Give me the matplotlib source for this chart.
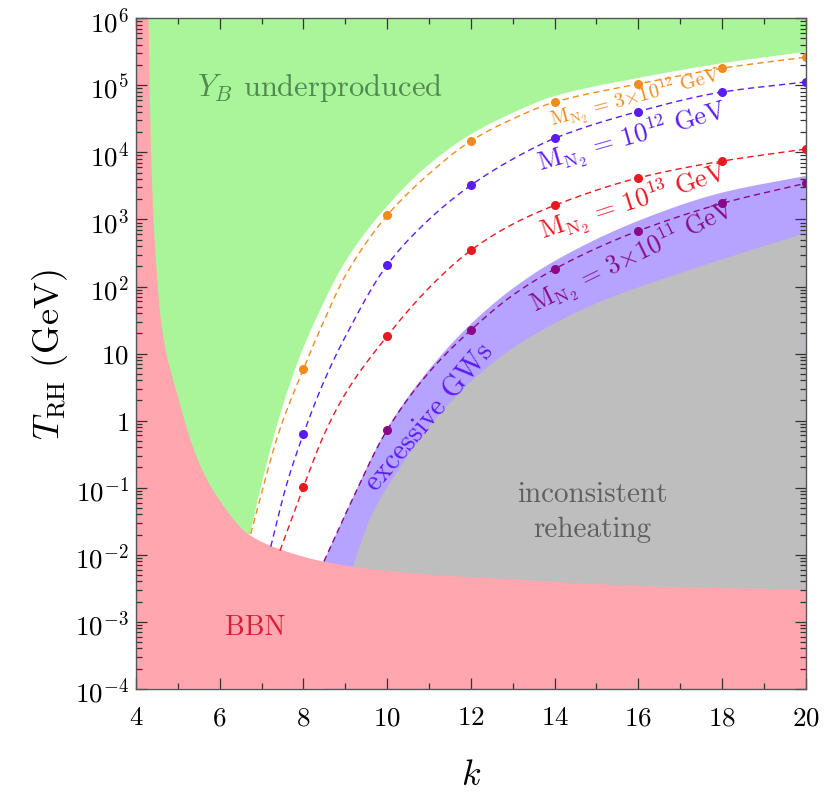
import numpy as np
import matplotlib
matplotlib.use("Agg")
import matplotlib.pyplot as plt
from matplotlib.ticker import FixedLocator, FixedFormatter, MultipleLocator, LogLocator, NullFormatter

plt.rcParams['font.family'] = ['cmr10', 'DejaVu Serif']
plt.rcParams['mathtext.fontset'] = 'cm'
plt.rcParams['axes.formatter.use_mathtext'] = True
plt.rcParams['axes.unicode_minus'] = False

# ---------------- data (log10 of T_RH in GeV) ----------------
# BBN boundary
bbn_k = [4.30, 4.36, 4.52, 4.64, 5.0, 5.5, 6.02, 6.7, 7.4, 8.46, 9.18, 10.5, 12.7, 16.7, 20.0]
bbn_logT = [6.0, 4.0, 2.0, 1.3, 0.36, -0.62, -1.21, -1.70, -1.91, -2.10, -2.18, -2.27, -2.36, -2.48, -2.52]

# Y_B underproduced (green) lower boundary
green_k = [6.72, 7.0, 7.4, 7.85, 8.4, 9.0, 10.0, 11.0, 12.0, 13.0, 14.0, 16.0, 18.0, 20.0]
green_logT = [-1.70, -0.95, 0.0, 0.85, 1.65, 2.37, 3.20, 3.82, 4.27, 4.59, 4.84, 5.11, 5.33, 5.50]

# excessive GWs (purple band) upper boundary
gw_k = [8.49, 9.03, 10.0, 11.0, 12.0, 13.0, 14.0, 16.0, 18.0, 20.0]
gw_logT = [-2.10, -1.35, -0.12, 0.76, 1.44, 1.97, 2.38, 2.98, 3.40, 3.65]

# inconsistent reheating (gray) upper boundary
gray_k = [9.18, 9.6, 10.2, 11.0, 12.0, 13.0, 14.0, 15.0, 17.0, 20.0]
gray_logT = [-2.18, -1.45, -0.80, -0.10, 0.58, 1.08, 1.45, 1.75, 2.20, 2.80]

# dashed curves for the four M_N2 values
orange_k = [6.74, 7.0, 7.4, 8.0, 8.5, 9.0, 10.0, 11.0, 12.0, 13.0, 14.0, 16.0, 18.0, 20.0]
orange_logT = [-1.69, -1.08, -0.20, 0.77, 1.50, 2.16, 3.06, 3.68, 4.17, 4.50, 4.75, 5.02, 5.255, 5.42]

blue_k = [7.22, 7.6, 8.0, 8.5, 9.0, 10.0, 11.0, 12.0, 13.0, 14.0, 16.0, 18.0, 20.0]
blue_logT = [-1.88, -0.95, -0.20, 0.60, 1.25, 2.32, 3.00, 3.51, 3.90, 4.21, 4.61, 4.90, 5.05]

red_k = [7.44, 8.0, 8.5, 9.0, 10.0, 11.0, 12.0, 13.0, 14.0, 16.0, 18.0, 20.0]
red_logT = [-1.94, -0.99, -0.20, 0.40, 1.26, 1.98, 2.54, 2.93, 3.21, 3.62, 3.87, 4.05]

purple_k = [8.49, 9.03, 10.0, 11.0, 12.0, 13.0, 14.0, 15.0, 16.0, 18.0, 20.0]
purple_logT = [-2.10, -1.36, -0.14, 0.72, 1.35, 1.87, 2.26, 2.57, 2.83, 3.24, 3.54]

# computed points (dots)
orange_dot_k = [8, 10, 12, 14, 16, 18, 20]
orange_dot_logT = [0.77, 3.06, 4.17, 4.75, 5.02, 5.255, 5.42]
blue_dot_k = [8, 10, 12, 14, 16, 18, 20]
blue_dot_logT = [-0.20, 2.32, 3.51, 4.21, 4.61, 4.90, 5.05]
red_dot_k = [8, 10, 12, 14, 16, 18, 20]
red_dot_logT = [-0.99, 1.26, 2.54, 3.21, 3.62, 3.87, 4.05]
purple_dot_k = [10, 12, 14, 16, 18, 20]
purple_dot_logT = [-0.14, 1.35, 2.26, 2.83, 3.24, 3.54]

ytick_vals = [1e-4, 1e-3, 1e-2, 1e-1, 1, 10, 1e2, 1e3, 1e4, 1e5, 1e6]
ytick_labels = [r'$10^{-4}$', r'$10^{-3}$', r'$10^{-2}$', r'$10^{-1}$', r'$1$', r'$10$',
                r'$10^{2}$', r'$10^{3}$', r'$10^{4}$', r'$10^{5}$', r'$10^{6}$']
xtick_vals = [4, 6, 8, 10, 12, 14, 16, 18, 20]

# colours
c_pink = '#ffa6ae'
c_green = '#aaf59a'
c_band = '#b6a3ff'
c_gray = '#bebebe'
c_orange = '#f08c1e'
c_blue = '#5b1cf2'
c_red = '#ec1820'
c_purple = '#880a88'

K_MIN, K_MAX = 4, 20
T_MIN, T_MAX = 1e-4, 1e6


def smooth(xs, ys, n=400):
    """Monotone cubic (PCHIP) rendering of a read curve, in log10 space."""
    x = np.asarray(xs, float)
    y = np.asarray(ys, float)
    h = np.diff(x)
    d = np.diff(y) / h
    m = np.zeros_like(y)
    m[0], m[-1] = d[0], d[-1]
    for i in range(1, len(x) - 1):
        if d[i - 1] * d[i] > 0:
            w1 = 2 * h[i] + h[i - 1]
            w2 = h[i] + 2 * h[i - 1]
            m[i] = (w1 + w2) / (w1 / d[i - 1] + w2 / d[i])
    xn = np.linspace(x[0], x[-1], n)
    idx = np.clip(np.searchsorted(x, xn) - 1, 0, len(x) - 2)
    t = (xn - x[idx]) / h[idx]
    h00 = 2 * t**3 - 3 * t**2 + 1
    h10 = t**3 - 2 * t**2 + t
    h01 = -2 * t**3 + 3 * t**2
    h11 = t**3 - t**2
    yn = h00 * y[idx] + h10 * h[idx] * m[idx] + h01 * y[idx + 1] + h11 * h[idx] * m[idx + 1]
    return xn, 10.0 ** yn


fig = plt.figure(figsize=(8.29, 8.04), dpi=100)
ax = fig.add_axes([0.164, 0.142, 0.808, 0.834])
ax.set_yscale('log')
ax.set_xlim(K_MIN, K_MAX)
ax.set_ylim(T_MIN, T_MAX)

# green region
sk, sT = smooth(green_k, green_logT)
ax.fill(np.r_[sk, K_MAX, K_MIN, K_MIN], np.r_[sT, T_MAX, T_MAX, sT[0]],
        color=c_green, lw=0, zorder=1)

# purple band
sk, sT = smooth(gw_k, gw_logT)
ax.fill(np.r_[sk, K_MAX, sk[0]], np.r_[sT, T_MIN, T_MIN], color=c_band, lw=0, zorder=1.1)

# gray region
sk, sT = smooth(gray_k, gray_logT)
ax.fill(np.r_[sk, K_MAX, sk[0]], np.r_[sT, T_MIN, T_MIN], color=c_gray, lw=0, zorder=1.2)

# BBN pink region
sk, sT = smooth(bbn_k, bbn_logT, 1500)
ax.fill(np.r_[sk, K_MAX, K_MIN, K_MIN], np.r_[sT, T_MIN, T_MIN, T_MAX],
        color=c_pink, lw=0, zorder=1.3)

# dashed curves + dots
for kk, ll, dk, dl, col in [
    (orange_k, orange_logT, orange_dot_k, orange_dot_logT, c_orange),
    (blue_k, blue_logT, blue_dot_k, blue_dot_logT, c_blue),
    (red_k, red_logT, red_dot_k, red_dot_logT, c_red),
    (purple_k, purple_logT, purple_dot_k, purple_dot_logT, c_purple),
]:
    sk, sT = smooth(kk, ll)
    ax.plot(sk, sT, ls=(0, (4.5, 3)), color=col, lw=1.0, zorder=3)
    ax.plot(dk, 10.0 ** np.asarray(dl), 'o', color=col, ms=5.5, zorder=4, clip_on=True)

# region labels
ax.text(8.39, 10**4.97, r'$Y_B$ underproduced', color='#4f8a4f', fontsize=22,
        ha='center', va='center', zorder=5)
ax.text(6.85, 10**-3.08, 'BBN', color='#d41f35', fontsize=20, ha='center', va='center', zorder=5)
ax.text(14.91, 10**-1.35, 'inconsistent\nreheating', color='#5f5f5f', fontsize=21,
        ha='center', va='center', linespacing=1.45, zorder=5)
ax.text(11.02, 10**0.05, 'excessive GWs', color='#5b1cf2', fontsize=20.5, rotation=50,
        ha='center', va='center', rotation_mode='anchor', zorder=5)

# mass labels
ax.text(15.92, 10**4.82, r'$\mathrm{M}_{\mathrm{N}_2}\,=\,3{\times}10^{12}\ \mathrm{GeV}$',
        color=c_orange, fontsize=14.5, rotation=15, ha='center', va='center',
        rotation_mode='anchor', zorder=5)
ax.text(15.85, 10**4.23, r'$\mathrm{M}_{\mathrm{N}_2}\,=\,10^{12}\ \mathrm{GeV}$',
        color=c_blue, fontsize=19, rotation=16, ha='center', va='center',
        rotation_mode='anchor', zorder=5)
ax.text(15.89, 10**3.27, r'$\mathrm{M}_{\mathrm{N}_2}\,=\,10^{13}\ \mathrm{GeV}$',
        color=c_red, fontsize=19, rotation=18, ha='center', va='center',
        rotation_mode='anchor', zorder=5)
ax.text(15.87, 10**2.47, r'$\mathrm{M}_{\mathrm{N}_2}\,=\,3{\times}10^{11}\ \mathrm{GeV}$',
        color=c_purple, fontsize=18.6, rotation=26, ha='center', va='center',
        rotation_mode='anchor', zorder=5)

# axes styling
ax.yaxis.set_major_locator(FixedLocator(ytick_vals))
ax.yaxis.set_major_formatter(FixedFormatter(ytick_labels))
ax.yaxis.set_minor_locator(LogLocator(base=10, subs=np.arange(2, 10), numticks=20))
ax.yaxis.set_minor_formatter(NullFormatter())
ax.xaxis.set_major_locator(FixedLocator(xtick_vals))
ax.xaxis.set_minor_locator(MultipleLocator(1))
ax.tick_params(which='both', direction='in', top=True, right=True, color='#333333',
               labelsize=19.5, width=0.9)
ax.tick_params(which='major', length=8)
ax.tick_params(which='minor', length=4)
ax.tick_params(axis='y', which='major', pad=5)
ax.tick_params(axis='x', which='major', pad=12)
for s in ax.spines.values():
    s.set_color('#555555')
    s.set_linewidth(1.0)
    s.set_zorder(6)

ax.set_xlabel(r'$k$', fontsize=26, labelpad=22)
ax.set_ylabel(r'$T_{\rm RH}$ (GeV)', fontsize=26, labelpad=4)

fig.savefig('out.png', dpi=100)
